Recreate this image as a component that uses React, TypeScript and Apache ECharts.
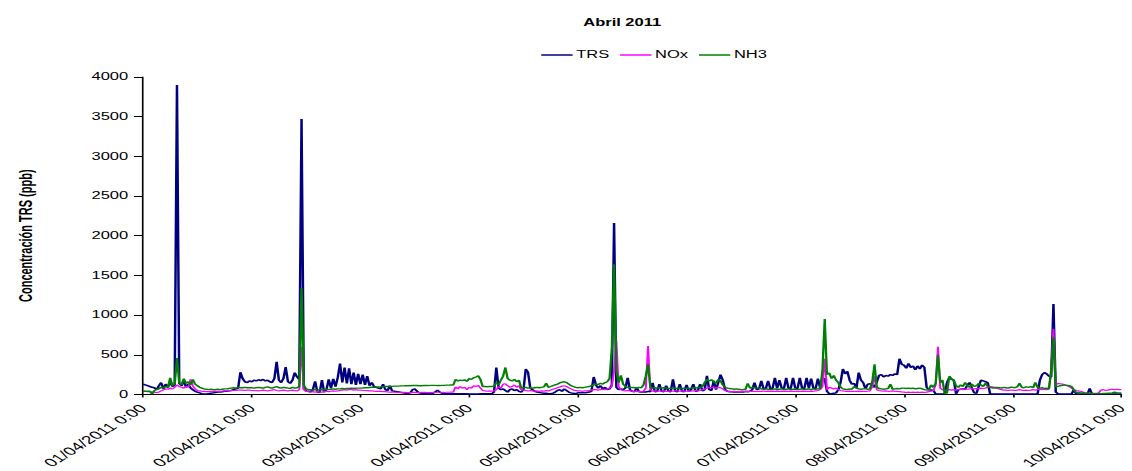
import React, { useEffect, useRef } from "react";
import * as echarts from "echarts";

// Sample interval of the series (hours from 01/04/2011 0:00)
const STEP_HOURS = 0.5;

const dayTicks = [
  "01/04/2011 0:00", "02/04/2011 0:00", "03/04/2011 0:00", "04/04/2011 0:00", "05/04/2011 0:00",
  "06/04/2011 0:00", "07/04/2011 0:00", "08/04/2011 0:00", "09/04/2011 0:00", "10/04/2011 0:00",
];

const seriesNames = ["TRS", "NOx", "NH3"];

const trsValues = [
  130,120,110,100,90,85,60,110,150,70,130,90,160,100,120,3900,140,110,170,90,130,80,60,40,30,20,10,5,5,10,15,20,25,30,30,35,40,40,45,50,60,70,80,280,200,160,150,170,
  160,180,170,185,175,190,170,180,160,150,200,410,180,150,200,345,160,140,180,275,220,190,3470,70,45,40,35,60,165,30,25,180,30,60,190,80,195,100,215,390,150,340,140,330,130,275,120,260,
  130,250,120,230,110,150,100,90,80,70,130,60,50,110,45,40,35,30,25,20,15,15,20,60,70,40,20,15,10,10,10,10,15,30,55,30,15,10,10,10,10,10,8,8,8,8,8,8,
  5,5,5,5,5,8,8,8,10,10,10,30,340,80,60,70,50,30,60,70,50,60,40,30,60,320,280,80,60,40,30,25,20,15,15,10,10,15,30,50,60,40,70,50,30,20,15,10,
  20,20,25,20,25,30,40,220,120,80,110,70,90,60,70,120,2160,90,60,70,60,80,210,60,40,35,85,35,30,35,30,40,35,145,35,40,130,40,35,110,40,35,190,40,35,130,40,35,
  120,40,60,130,40,50,130,45,60,235,60,50,170,60,150,250,180,60,40,35,35,30,35,30,35,30,40,35,40,60,150,60,70,170,70,75,170,70,80,210,75,180,80,75,210,80,75,210,
  80,75,210,80,75,210,80,200,80,75,200,80,190,200,40,10,10,15,20,60,150,320,260,290,180,130,140,80,275,180,150,70,130,135,120,90,160,240,250,220,240,230,250,240,260,250,450,380,
  370,330,390,340,360,310,360,320,370,340,90,60,55,50,5,5,5,5,10,150,210,190,180,10,60,65,70,65,120,150,80,20,15,100,180,170,160,150,10,5,5,5,5,5,5,5,5,5,
  5,5,5,5,5,5,5,5,5,5,5,5,180,250,275,260,230,220,1140,30,10,5,5,5,5,5,5,60,5,5,5,5,5,5,75,5,5,5,5,5,5,5,5,5,5,5,5,5,
  5,
];

const noxValues = [
  40,38,35,35,30,25,25,30,45,60,70,65,80,70,90,120,100,90,80,100,90,190,110,70,50,45,40,40,35,35,35,38,38,40,40,42,45,45,48,50,50,52,55,55,55,50,55,55,
  50,48,50,45,50,55,50,45,50,55,60,50,45,50,55,50,45,50,55,50,45,60,600,60,40,35,30,35,30,35,30,30,35,40,35,40,45,40,45,50,55,60,55,60,60,55,60,55,
  55,50,50,48,45,45,42,40,40,38,35,35,32,30,30,28,28,25,25,25,25,22,22,25,25,22,22,25,25,25,22,22,25,25,28,28,25,25,28,28,30,30,95,70,100,80,90,60,
  90,80,110,100,115,80,50,45,40,45,40,45,60,100,80,130,135,110,90,100,120,90,110,60,55,50,45,50,45,40,45,40,45,40,50,45,55,65,75,85,95,105,110,100,85,70,55,50,
  45,45,40,45,45,50,55,60,60,55,60,65,60,70,80,100,300,680,100,60,50,45,50,45,40,40,35,40,35,40,80,610,60,40,45,40,45,40,45,40,40,45,40,45,45,40,45,40,
  40,45,40,45,50,45,50,60,70,80,90,85,90,80,90,85,70,50,40,38,35,38,35,38,35,38,35,40,38,40,38,40,38,40,42,40,42,40,42,40,42,40,42,40,42,40,42,40,
  40,38,40,42,40,38,40,42,40,45,50,60,100,450,60,90,80,70,80,60,50,45,40,40,42,40,38,40,42,40,38,40,42,45,100,230,60,50,45,42,45,40,42,45,40,38,35,32,
  30,25,30,25,30,25,30,25,30,25,30,35,40,50,120,600,80,60,50,55,60,55,60,55,60,65,60,70,65,70,75,70,75,70,80,75,80,90,100,95,90,80,70,60,55,55,50,55,
  55,50,55,60,55,50,55,50,55,60,55,60,65,60,65,60,70,300,825,120,140,135,130,120,110,100,80,60,50,45,40,30,20,15,15,15,15,15,20,55,60,50,55,60,65,60,65,60,
  60,
];

const nh3Values = [
  40,40,40,40,5,50,60,70,90,80,100,90,210,110,130,460,150,120,200,140,160,120,190,130,110,90,80,70,65,60,65,60,60,65,60,65,70,70,75,80,85,80,90,85,85,90,85,85,
  85,80,85,90,85,80,90,95,85,80,90,100,85,80,90,85,80,75,90,80,85,100,1340,120,70,60,60,55,60,55,60,60,60,65,60,65,70,65,70,70,75,70,75,75,80,75,80,80,
  80,82,85,85,88,90,90,92,95,95,98,100,100,100,102,105,105,105,108,108,110,110,110,112,112,112,110,110,112,112,112,115,115,115,112,112,115,115,118,118,120,118,190,170,180,175,185,165,
  200,190,210,220,235,190,100,100,95,100,100,105,150,120,180,230,340,200,180,170,190,160,180,80,85,90,80,85,80,85,90,85,90,95,140,90,100,110,120,130,145,155,160,150,130,110,100,90,
  85,90,85,90,95,100,110,120,130,125,140,130,150,160,200,580,1640,300,150,240,130,100,90,85,90,85,80,90,85,120,230,380,90,80,85,80,85,80,85,80,75,80,75,80,75,80,75,80,
  80,75,80,85,80,90,85,100,150,190,170,185,160,140,190,170,120,90,80,75,70,65,70,65,60,60,65,140,80,90,85,80,80,70,65,70,65,60,65,70,60,65,70,60,65,70,60,65,
  65,60,65,70,60,65,70,60,70,65,70,75,300,950,250,270,200,240,180,150,90,70,65,60,70,65,100,80,70,65,70,75,65,70,160,380,90,75,70,65,70,75,130,65,70,75,70,80,
  80,75,80,75,80,70,75,80,70,60,55,60,120,90,140,500,150,180,10,20,230,200,170,110,90,120,100,150,110,90,130,100,110,140,120,100,140,100,90,85,80,90,85,80,90,85,80,90,
  90,85,95,140,90,85,95,90,100,85,150,90,80,85,75,80,70,300,720,100,100,110,115,120,115,110,100,60,25,25,20,20,15,15,12,12,10,10,10,10,12,12,15,15,20,30,20,20,
  20,
];

const seriesColors = ["#000080", "#FF00FF", "#008000"];
const seriesWidths = [1.5, 1.2, 1.4];

// The reference picture is horizontally stretched; draw at a base width and stretch the whole chart.
const OUT_W = 1132;
const OUT_H = 471;
const STRETCH = 1.65;
const BASE_W = OUT_W / STRETCH;

const SANS = "'Liberation Sans', Arial, sans-serif";

export default function App() {
  const ref = useRef<HTMLDivElement>(null);

  useEffect(() => {
    document.body.style.margin = "0";
    if (!ref.current) return;
    const chart = echarts.init(ref.current, null, { renderer: "svg" });
    const toPairs = (vals: number[]) => vals.map((v, i) => [i * STEP_HOURS, v]);
    const allValues = [trsValues, noxValues, nh3Values];

    chart.setOption({
      animation: false,
      backgroundColor: "#ffffff",
      title: {
        text: "Abril 2011",
        left: 575 / STRETCH,
        top: 13,
        textStyle: { fontSize: 10, fontWeight: "bold", fontFamily: SANS, color: "#000" },
      },
      legend: {
        data: seriesNames,
        top: 45,
        left: 533 / STRETCH,
        icon: "rect",
        itemWidth: 19,
        itemHeight: 1.5,
        itemGap: 6.6,
        textStyle: { fontSize: 10, fontFamily: SANS, color: "#000", padding: [0, 0, 0, -2.8] },
      },
      grid: { left: 143 / STRETCH, right: BASE_W - 1136 / STRETCH, top: 77, bottom: OUT_H - 397 },
      xAxis: {
        type: "value",
        min: 0,
        max: 216,
        interval: 24,
        splitLine: { show: false },
        axisLine: { lineStyle: { color: "#000", width: 1 } },
        axisTick: { length: 3, lineStyle: { color: "#000" } },
        axisLabel: {
          rotate: 45,
          fontSize: 11.5,
          fontFamily: SANS,
          color: "#000",
          margin: 12,
          formatter: (v: number) => {
            const k = Math.round(v / 24);
            return Math.abs(v - k * 24) < 1e-6 ? dayTicks[k] ?? "" : "";
          },
        },
      },
      yAxis: {
        type: "value",
        min: 0,
        max: 4000,
        interval: 500,
        name: "Concentración TRS (ppb)",
        nameLocation: "middle",
        nameRotate: 90,
        nameGap: 66,
        nameTextStyle: { fontSize: 11, fontWeight: "bold", fontFamily: SANS, color: "#000" },
        splitLine: { show: false },
        axisLine: { show: true, lineStyle: { color: "#000", width: 1 } },
        axisTick: { show: true, length: 5.5, lineStyle: { color: "#000" } },
        axisLabel: {
          fontSize: 10,
          fontFamily: SANS,
          color: "#000",
          margin: 9,
          formatter: (v: number) => String(v),
        },
      },
      series: seriesNames.map((name, k) => ({
        name,
        type: "line",
        data: toPairs(allValues[k]),
        symbol: "none",
        showSymbol: false,
        lineStyle: { color: seriesColors[k], width: seriesWidths[k] },
        itemStyle: { color: seriesColors[k] },
      })),
    });

    return () => chart.dispose();
  }, []);

  return (
    <div style={{ width: OUT_W, height: OUT_H, overflow: "hidden", background: "#fff" }}>
      <div
        ref={ref}
        style={{ width: BASE_W, height: OUT_H, transform: `scaleX(${STRETCH})`, transformOrigin: "0 0" }}
      />
    </div>
  );
}
